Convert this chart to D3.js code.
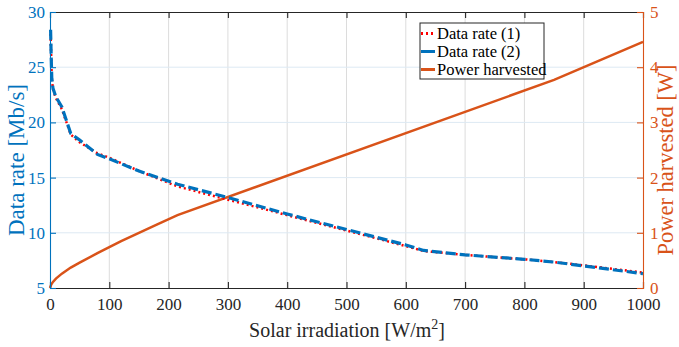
<!DOCTYPE html>
<html>
<head>
<meta charset="utf-8">
<script src="https://cdn.jsdelivr.net/npm/d3@7"></script>
<style>
  body { margin: 0; background: #fff; }
  svg text { font-family: "Liberation Serif", "Times New Roman", Times, "DejaVu Serif", serif !important; }
</style>
</head>
<body>
<div id="chart"></div>
<script>
// Chart size
let width = 679;
let height = 347;

// Plot area
let plotLeft = 50, plotRight = 643, plotTop = 12, plotBottom = 288;

// Data rate curves (irradiation in W/m^2, rate in Mb/s)
let rateX1 = [1, 2, 3, 5, 10, 20, 35, 50, 80, 100, 150, 215, 300, 400, 500, 600, 630, 700, 800, 850, 900, 1000];
let rate1  = [28.0, 26.0, 24.0, 23.0, 22.2, 21.2, 18.9, 18.2, 17.2, 16.8, 15.6, 14.2, 13.0, 11.6, 10.2, 8.8, 8.35, 8.0, 7.6, 7.35, 7.05, 6.4];
let rateX2 = [1, 2, 3, 5, 10, 20, 35, 50, 80, 100, 150, 215, 300, 400, 500, 600, 630, 700, 800, 850, 900, 1000];
let rate2  = [28.4, 26.0, 24.0, 23.1, 22.3, 21.4, 19.0, 18.4, 17.1, 16.7, 15.6, 14.4, 13.2, 11.7, 10.3, 8.9, 8.4, 8.0, 7.6, 7.35, 7.0, 6.3];

// Power harvested (W)
let powerX = [0, 2, 5, 10, 20, 35, 50, 80, 100, 120, 150, 180, 215, 850, 1000];
let power  = [0, 0.06, 0.11, 0.17, 0.26, 0.37, 0.46, 0.63, 0.74, 0.85, 1.0, 1.15, 1.32, 3.77, 4.46];

// Ticks
let xTicks = [0, 100, 200, 300, 400, 500, 600, 700, 800, 900, 1000];
let yTicksLeft = [5, 10, 15, 20, 25, 30];
let yTicksRight = [0, 1, 2, 3, 4, 5];

let blue = "#0072BD";
let orange = "#D95319";

let svg = d3.select("#chart").append("svg")
    .attr("width", width)
    .attr("height", height);

let xScale = d3.scaleLinear().domain([0, 1000]).range([plotLeft, plotRight]);
let yLeft = d3.scaleLinear().domain([5, 30]).range([plotBottom, plotTop]);
let yRight = d3.scaleLinear().domain([0, 5]).range([plotBottom, plotTop]);

// Grid lines
svg.append("g").selectAll("line")
    .data(xTicks.slice(1, -1))
    .enter().append("line")
    .attr("x1", d => xScale(d)).attr("x2", d => xScale(d))
    .attr("y1", plotTop).attr("y2", plotBottom)
    .attr("stroke", "#dcdcdc").attr("stroke-width", 1);

svg.append("g").selectAll("line")
    .data(yTicksLeft.slice(1, -1))
    .enter().append("line")
    .attr("x1", plotLeft).attr("x2", plotRight)
    .attr("y1", d => yLeft(d)).attr("y2", d => yLeft(d))
    .attr("stroke", "#dde9f3").attr("stroke-width", 1);

// Line generators
let rateLine1 = d3.line()
    .x((d, i) => xScale(rateX1[i]))
    .y(d => yLeft(d));
let rateLine2 = d3.line()
    .x((d, i) => xScale(rateX2[i]))
    .y(d => yLeft(d));
let powerLine = d3.line()
    .x((d, i) => xScale(powerX[i]))
    .y(d => yRight(d));

svg.append("path")
    .datum(power)
    .attr("d", powerLine)
    .attr("fill", "none")
    .attr("stroke", orange)
    .attr("stroke-width", 2.5);

svg.append("path")
    .datum(rate1)
    .attr("d", rateLine1)
    .attr("fill", "none")
    .attr("stroke", "#ff0000")
    .attr("stroke-width", 2.5)
    .attr("stroke-dasharray", "2,3");

svg.append("path")
    .datum(rate2)
    .attr("d", rateLine2)
    .attr("fill", "none")
    .attr("stroke", blue)
    .attr("stroke-width", 3.2)
    .attr("stroke-dasharray", "10,4");

// Axes
let xAxisBottom = d3.axisBottom(xScale).tickValues(xTicks).tickSize(-6).tickPadding(10).tickFormat(d3.format("d"));
let xAxisTop = d3.axisTop(xScale).tickValues(xTicks).tickSize(-6).tickFormat("");
let yAxisLeft = d3.axisLeft(yLeft).tickValues(yTicksLeft).tickSize(-6).tickPadding(5).tickFormat(d3.format("d"));
let yAxisRight = d3.axisRight(yRight).tickValues(yTicksRight).tickSize(-6).tickPadding(7).tickFormat(d3.format("d"));

function styleAxis(g, color) {
    g.attr("font-family", null);
    g.select(".domain").attr("stroke", color).attr("stroke-width", 1.1);
    g.selectAll(".tick line").attr("stroke", color).attr("stroke-width", 1.1);
    g.selectAll(".tick text").attr("fill", color).style("font-size", "17px");
}

svg.append("g")
    .attr("transform", "translate(0," + plotBottom + ")")
    .call(xAxisBottom)
    .call(g => styleAxis(g, "#262626"));

svg.append("g")
    .attr("transform", "translate(0," + plotTop + ")")
    .call(xAxisTop)
    .call(g => styleAxis(g, "#262626"));

svg.append("g")
    .attr("transform", "translate(" + plotLeft + ",0)")
    .call(yAxisLeft)
    .call(g => styleAxis(g, blue));

svg.append("g")
    .attr("transform", "translate(" + plotRight + ",0)")
    .call(yAxisRight)
    .call(g => styleAxis(g, orange));

// Axis labels
svg.append("text")
    .attr("transform", "translate(24,160) rotate(-90)")
    .attr("text-anchor", "middle")
    .attr("fill", blue)
    .style("font-size", "23px")
    .text("Data rate [Mb/s]");

svg.append("text")
    .attr("transform", "translate(673,160) rotate(-90)")
    .attr("text-anchor", "middle")
    .attr("fill", orange)
    .style("font-size", "22.5px")
    .text("Power harvested [W]");

let xl = svg.append("text")
    .attr("x", 347)
    .attr("y", 337)
    .attr("text-anchor", "middle")
    .attr("fill", "#262626")
    .style("font-size", "20px");
xl.append("tspan").text("Solar irradiation [W/m");
xl.append("tspan").attr("dy", -8).style("font-size", "14px").text("2");
xl.append("tspan").attr("dy", 8).text("]");

// Legend
let legendNames = ["Data rate (1)", "Data rate (2)", "Power harvested"];
let legendColors = ["#ff0000", blue, orange];
let legendDash = ["2,3", null, null];

let legend = svg.append("g").attr("transform", "translate(420,23)");
legend.append("rect")
    .attr("width", 124).attr("height", 56)
    .attr("fill", "#fff").attr("stroke", "#262626").attr("stroke-width", 1);

legendNames.forEach(function (name, i) {
    let y = 10.5 + i * 18;
    legend.append("line")
        .attr("x1", 1).attr("x2", 15)
        .attr("y1", y).attr("y2", y)
        .attr("stroke", legendColors[i])
        .attr("stroke-width", 3)
        .attr("stroke-dasharray", legendDash[i]);
    legend.append("text")
        .attr("x", 17).attr("y", y + 5.5)
        .attr("fill", "#000")
        .style("font-size", "16.5px")
        .text(name);
});
</script>
</body>
</html>
